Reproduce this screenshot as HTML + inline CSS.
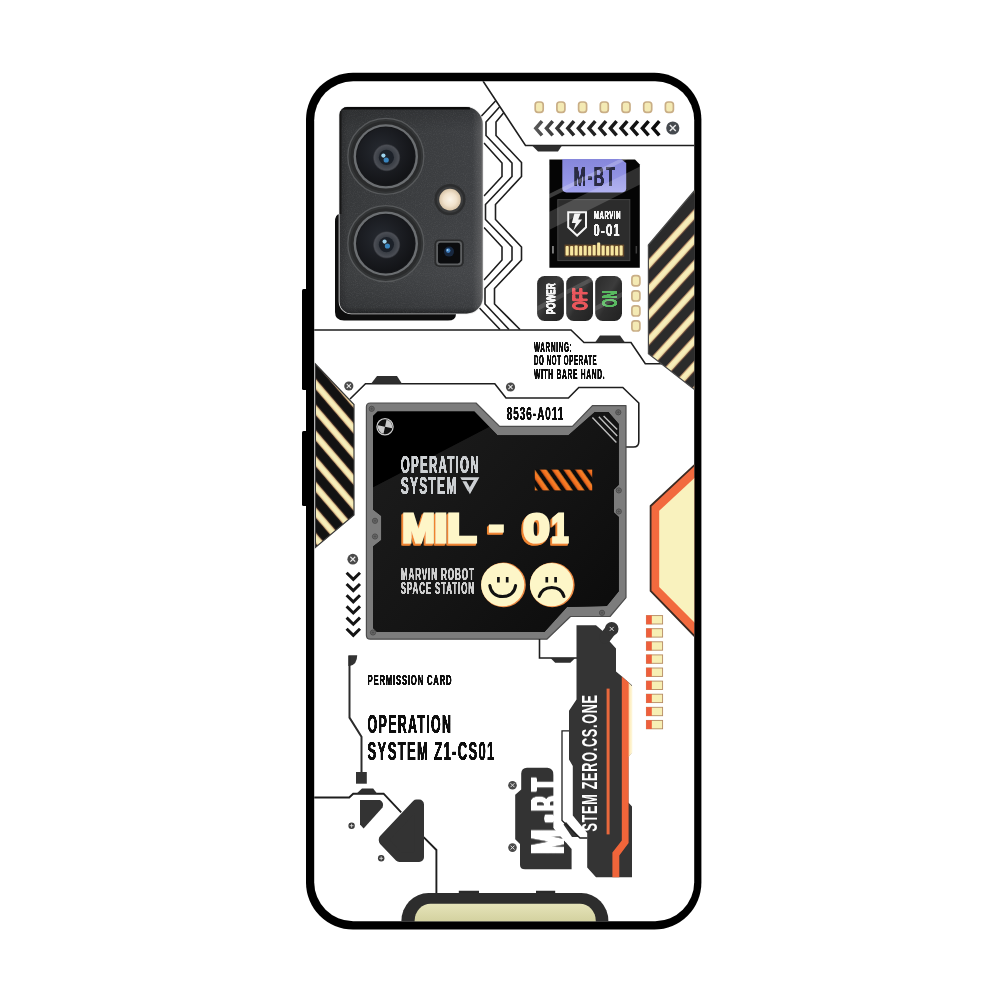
<!DOCTYPE html>
<html lang="en">
<head>
<meta charset="utf-8">
<title>MIL-01 Operation System phone case</title>
<style>
html,body{margin:0;padding:0;background:#fff;}
body{width:1000px;height:1000px;overflow:hidden;}
svg{display:block;font-family:'Liberation Sans', sans-serif;will-change:transform;}
text{white-space:pre;}
</style>
</head>
<body>
<svg width="1000" height="1000" viewBox="0 0 1000 1000">
<rect width="1000" height="1000" fill="#fff"/>
<defs>
<filter id="hbB" x="-20%" y="-20%" width="140%" height="140%"><feGaussianBlur stdDeviation="1.2 0"/><feComponentTransfer><feFuncA type="linear" slope="3" intercept="-0.04"/></feComponentTransfer></filter>
<filter id="hbM" x="-5%" y="-10%" width="110%" height="120%"><feGaussianBlur stdDeviation="0.75 0"/><feComponentTransfer><feFuncA type="linear" slope="3" intercept="-0.04"/></feComponentTransfer></filter>
<filter id="hb" x="-5%" y="-10%" width="110%" height="120%"><feGaussianBlur stdDeviation="0.65 0"/><feComponentTransfer><feFuncA type="linear" slope="2.8" intercept="-0.15"/></feComponentTransfer></filter>
<clipPath id="caseClip"><rect x="314.2" y="81.2" width="380" height="840" rx="39" ry="39"/></clipPath>
<linearGradient id="stripeCream" x1="0" y1="0" x2="0" y2="1">
 <stop offset="0" stop-color="#a8644a"/><stop offset="0.16" stop-color="#f1e4aa"/><stop offset="0.5" stop-color="#f8f0c0"/><stop offset="0.84" stop-color="#f1e4aa"/><stop offset="1" stop-color="#a8644a"/>
</linearGradient>
<linearGradient id="stripeCream2" x1="0" y1="0" x2="0" y2="1">
 <stop offset="0" stop-color="#a8644a"/><stop offset="0.16" stop-color="#f1e4aa"/><stop offset="0.5" stop-color="#f8f0c0"/><stop offset="0.84" stop-color="#f1e4aa"/><stop offset="1" stop-color="#a8644a"/>
</linearGradient>
<pattern id="stripeR" width="40" height="17" patternUnits="userSpaceOnUse" patternTransform="rotate(-47.7)">
 <rect width="40" height="17" fill="#2b2b2b"/><rect y="8.1" width="40" height="7.4" fill="url(#stripeCream2)"/>
</pattern>
<pattern id="stripeL" width="40" height="16.7" patternUnits="userSpaceOnUse" patternTransform="rotate(49.4)">
 <rect width="40" height="16.7" fill="#121212"/><rect y="6.6" width="40" height="7.3" fill="url(#stripeCream)"/>
</pattern>
<linearGradient id="orangeBar" x1="0" y1="0" x2="0" y2="1">
 <stop offset="0" stop-color="#ff8a2a"/><stop offset="1" stop-color="#e8601a"/>
</linearGradient>
<pattern id="stripeO" width="20" height="9.6" patternUnits="userSpaceOnUse" patternTransform="rotate(55) translate(0 2)">
 <rect width="20" height="9.6" fill="#0c0c0c"/><rect y="2.2" width="20" height="5.2" fill="url(#orangeBar)"/>
</pattern>
<radialGradient id="lens" cx="0.5" cy="0.5" r="0.5">
 <stop offset="0" stop-color="#1d2a3a"/><stop offset="0.35" stop-color="#10151c"/><stop offset="0.75" stop-color="#0b0d10"/><stop offset="1" stop-color="#17191c"/>
</radialGradient>
<linearGradient id="camBody" x1="0" y1="0" x2="1" y2="1">
 <stop offset="0" stop-color="#3b3b3b"/><stop offset="0.5" stop-color="#454545"/><stop offset="1" stop-color="#4c4c4c"/>
</linearGradient>
<linearGradient id="chevGrad" x1="534" y1="0" x2="664" y2="0" gradientUnits="userSpaceOnUse">
 <stop offset="0" stop-color="#5a5a5a"/><stop offset="0.25" stop-color="#2a2a2a"/><stop offset="1" stop-color="#0a0a0a"/>
</linearGradient>
<linearGradient id="panelShade" x1="400" y1="450" x2="600" y2="630" gradientUnits="userSpaceOnUse"><stop offset="0" stop-color="#1b1b1b"/><stop offset="0.5" stop-color="#141414"/><stop offset="1" stop-color="#0c0c0c"/></linearGradient>
<linearGradient id="panelGloss" x1="374" y1="411" x2="560" y2="640" gradientUnits="userSpaceOnUse">
 <stop offset="0" stop-color="#000"/><stop offset="0.28" stop-color="#020202"/><stop offset="0.3" stop-color="#151515"/><stop offset="1" stop-color="#0d0d0d"/>
</linearGradient>
<linearGradient id="btnGrad" x1="0" y1="0" x2="1" y2="1">
 <stop offset="0" stop-color="#2a2a2a"/><stop offset="0.45" stop-color="#3c3c3c"/><stop offset="0.55" stop-color="#2e2e2e"/><stop offset="1" stop-color="#222"/>
</linearGradient>
</defs>
<rect x="302" y="289" width="6" height="101" rx="1.5" fill="#000"/>
<rect x="302" y="431" width="6" height="75" rx="1.5" fill="#000"/>
<rect x="306" y="72.8" width="395.4" height="856.8" rx="47" ry="47" fill="#000"/>
<rect x="314.2" y="81.2" width="380" height="840" rx="39" ry="39" fill="#fff"/>
<g clip-path="url(#caseClip)">
<path d="M483 81 L525.5 145.5 L694 145.5" fill="none" stroke="#1e1e1e" stroke-width="1.6" stroke-linejoin="miter"/>
<path d="M532 145.5 L562 145.5 L558 151.5 L538 151.5 Z" fill="#2e2e2e"/>
<path d="M495.5 101 L481 116.5 M484 143 L502 163 L502 176.5 L484 196 M484 227.5 L502 247 L502 260 L484 280 M479 307.5 L500 329.5" fill="none" stroke="#1e1e1e" stroke-width="1.6" stroke-linejoin="miter"/>
<path d="M499.5 107 L486 122 L486 135.5 L512 163 L512 176.5 L485.5 204.5 L485.5 219.5 L512 247 L512 260 L485 288.5 L485 304 L509 329.5" fill="none" stroke="#1e1e1e" stroke-width="1.6" stroke-linejoin="miter"/>
<path d="M503.5 113 L496 122 L496 135.5 L521.5 162.5 L521.5 176.5 L495.5 204.5 L495.5 219.5 L521.5 247 L521.5 260 L494.5 288.5 L494.5 304 L520 329.5" fill="none" stroke="#1e1e1e" stroke-width="1.6" stroke-linejoin="miter"/>
<path d="M314 330 L571 330 L584 342.5 L631 342.5 L645.3 363.7 L662 363.7" fill="none" stroke="#1e1e1e" stroke-width="1.6" stroke-linejoin="miter"/>
<path d="M595 342.5 L600 335.5 L620 335.5 L625 342.5 Z" fill="#2e2e2e"/>
<rect x="535.2" y="102" width="8" height="10.4" rx="2.8" fill="#f4eab4" stroke="#c9ae86" stroke-width="1.7"/>
<rect x="556.9" y="102" width="8" height="10.4" rx="2.8" fill="#f4eab4" stroke="#c9ae86" stroke-width="1.7"/>
<rect x="578.6" y="102" width="8" height="10.4" rx="2.8" fill="#f4eab4" stroke="#c9ae86" stroke-width="1.7"/>
<rect x="600.3" y="102" width="8" height="10.4" rx="2.8" fill="#f4eab4" stroke="#c9ae86" stroke-width="1.7"/>
<rect x="622.0" y="102" width="8" height="10.4" rx="2.8" fill="#f4eab4" stroke="#c9ae86" stroke-width="1.7"/>
<rect x="643.7" y="102" width="8" height="10.4" rx="2.8" fill="#f4eab4" stroke="#c9ae86" stroke-width="1.7"/>
<rect x="665.4" y="102" width="8" height="10.4" rx="2.8" fill="#f4eab4" stroke="#c9ae86" stroke-width="1.7"/>
<path d="M542.0 121.2 L535.8 128.3 L542.0 135.4 M552.7 121.2 L546.5 128.3 L552.7 135.4 M563.3 121.2 L557.1 128.3 L563.3 135.4 M574.0 121.2 L567.8 128.3 L574.0 135.4 M584.6 121.2 L578.4 128.3 L584.6 135.4 M595.3 121.2 L589.1 128.3 L595.3 135.4 M606.0 121.2 L599.8 128.3 L606.0 135.4 M616.6 121.2 L610.4 128.3 L616.6 135.4 M627.3 121.2 L621.1 128.3 L627.3 135.4 M637.9 121.2 L631.7 128.3 L637.9 135.4 M648.6 121.2 L642.4 128.3 L648.6 135.4 M659.3 121.2 L653.1 128.3 L659.3 135.4" fill="none" stroke="url(#chevGrad)" stroke-width="3.5" stroke-linecap="butt" stroke-linejoin="miter"/>
<circle cx="672.8" cy="128" r="6.6" fill="#464a4f"/><path d="M669.8299999999999 125.03L675.77 130.97M675.77 125.03L669.8299999999999 130.97" stroke="#e8e8e8" stroke-width="1.45" fill="none"/>
<linearGradient id="lblG" x1="0" y1="0" x2="0" y2="1"><stop offset="0" stop-color="#8687dc"/><stop offset="0.6" stop-color="#9394e6"/><stop offset="1" stop-color="#a3a4ee"/></linearGradient>
<path d="M549.4 159.4 H635 L639.8 164.5 V267.8 H549.4 Z" fill="#050505"/>
<path d="M562.3 159 H621 L626.2 163 V188.3 Q626.2 192.4 622 192.4 H566.5 Q562.3 192.4 562.3 188.3 Z" fill="url(#lblG)"/>
<text x="573.8" y="186.1" font-size="27.56" font-weight="bold" letter-spacing="2.89" fill="#2a2c44" textLength="42.56" lengthAdjust="spacingAndGlyphs" filter="url(#hbM)" >M-BT</text>
<rect x="557.8" y="199.6" width="72" height="61" fill="#2c2c2c" stroke="#454545" stroke-width="1"/>
<path d="M568.2 212.2 H586 V227.2 L577.1 235.6 L568.2 227.2 Z" fill="none" stroke="#f4f4f4" stroke-width="2" stroke-linejoin="miter"/>
<path d="M574.4 213.6 L580.6 213.6 L578.2 219.4 L582.2 219.4 L573.4 230.4 L575.8 223 L571.8 223 Z" fill="#f4f4f4"/>
<text x="593.8" y="219.4" font-size="10.81" font-weight="bold" letter-spacing="1.14" fill="#f4f4f4" textLength="27.33" lengthAdjust="spacingAndGlyphs" filter="url(#hb)" >MARVIN</text>
<text x="593.6" y="235.6" font-size="17.38" font-weight="bold" letter-spacing="1.82" fill="#f4f4f4" textLength="27.08" lengthAdjust="spacingAndGlyphs" filter="url(#hb)" >0-01</text>
<filter id="ledBlur" x="-10%" y="-40%" width="120%" height="180%"><feGaussianBlur stdDeviation="0.7"/></filter>
<g filter="url(#ledBlur)"><rect x="564.6" y="244.6" width="59.6" height="12" fill="#8a5a2a" opacity="0.6"/><rect x="565.6" y="246.1" width="3.1" height="9.5" rx="0.8" fill="#f7e7a0"/><rect x="570.1" y="246.1" width="3.1" height="9.5" rx="0.8" fill="#f7e7a0"/><rect x="574.6" y="245.6" width="3.1" height="10" rx="0.8" fill="#f7e7a0"/><rect x="579.1" y="246.1" width="3.1" height="9.5" rx="0.8" fill="#f7e7a0"/><rect x="583.6" y="245.6" width="3.1" height="10" rx="0.8" fill="#f7e7a0"/><rect x="588.1" y="246.1" width="3.1" height="9.5" rx="0.8" fill="#f7e7a0"/><rect x="592.6" y="245.1" width="3.1" height="10.5" rx="0.8" fill="#f7e7a0"/><rect x="597.1" y="242.6" width="3.1" height="13" rx="0.8" fill="#f7e7a0"/><rect x="601.6" y="245.6" width="3.1" height="10" rx="0.8" fill="#f7e7a0"/><rect x="606.1" y="246.1" width="3.1" height="9.5" rx="0.8" fill="#f7e7a0"/><rect x="610.6" y="245.6" width="3.1" height="10" rx="0.8" fill="#f7e7a0"/><rect x="615.1" y="246.1" width="3.1" height="9.5" rx="0.8" fill="#f7e7a0"/><rect x="619.6" y="245.6" width="3.1" height="10" rx="0.8" fill="#f7e7a0"/></g>
<rect x="552.2" y="246" width="1.5" height="7.5" fill="#9a9a9a"/><rect x="635.6" y="246" width="1.5" height="7.5" fill="#3c3c3c"/>
<clipPath id="modClip"><path d="M549.4 159.4 H635 L639.8 164.5 V267.8 H549.4 Z"/></clipPath>
<g clip-path="url(#modClip)" fill="#fff"><path d="M545 196 L630 154 L638 154 L545 200.5 Z" opacity="0.22"/><path d="M545 214 L645 164 L645 182 L545 232 Z" opacity="0.17"/></g>
<rect x="537.1" y="276" width="26.8" height="45" rx="7.5" fill="url(#btnGrad)"/>
<text x="555.14" y="298.8" font-size="13.2" font-weight="bold" fill="#f4f4f4" text-anchor="middle" textLength="31.5" lengthAdjust="spacingAndGlyphs" transform="rotate(-90 555.14 298.8)" filter="url(#hb)">POWER</text>
<rect x="566.2" y="276" width="26.8" height="45" rx="7.5" fill="url(#btnGrad)"/>
<text x="587.44" y="299" font-size="22.2" font-weight="bold" fill="#e9575b" text-anchor="middle" textLength="22.5" lengthAdjust="spacingAndGlyphs" transform="rotate(-90 587.44 299)" filter="url(#hb)">OFF</text>
<rect x="595.2" y="276" width="26.8" height="45" rx="7.5" fill="url(#btnGrad)"/>
<text x="616.94" y="299" font-size="22.2" font-weight="bold" fill="#59b961" text-anchor="middle" textLength="16.4" lengthAdjust="spacingAndGlyphs" transform="rotate(-90 616.94 299)" filter="url(#hb)">ON</text>
<g fill="#fff" opacity="0.13"><path d="M537.5 306 L563.5 292 L563.5 297 L537.5 311 Z"/><path d="M566.5 290 L593 276.5 L593 281 L566.5 294.5 Z"/><path d="M595.5 306 L622 292 L622 297 L595.5 311 Z"/></g>
<rect x="631.9" y="275.7" width="8" height="10.2" rx="2.8" fill="#f4eab4" stroke="#c9ae86" stroke-width="1.7"/>
<rect x="631.9" y="290.8" width="8" height="10.2" rx="2.8" fill="#f4eab4" stroke="#c9ae86" stroke-width="1.7"/>
<rect x="631.9" y="305.8" width="8" height="10.2" rx="2.8" fill="#f4eab4" stroke="#c9ae86" stroke-width="1.7"/>
<rect x="631.9" y="320.8" width="8" height="10.2" rx="2.8" fill="#f4eab4" stroke="#c9ae86" stroke-width="1.7"/>
<path d="M648.4 245 L695 190 L695 390 L648.4 353.8 Z" fill="url(#stripeR)"/>
<path d="M649.6 247.6 L696 192.8" fill="none" stroke="#2b2b2b" stroke-width="5"/>
<path d="M648.4 245 L695 190 L695 390 L648.4 353.8 Z" fill="none" stroke="#4a4a4a" stroke-width="1.2"/>
<path d="M315.4 364 L354 404.5 L354 515 L315.4 547.5 Z" fill="url(#stripeL)" stroke="#3a3a3a" stroke-width="1.2"/>
<text x="534" y="352" font-size="14.31" font-weight="bold" letter-spacing="1.5" fill="#111" textLength="38.34" lengthAdjust="spacingAndGlyphs" filter="url(#hb)" >WARNING:</text>
<text x="534" y="365.4" font-size="14.31" font-weight="bold" letter-spacing="1.5" fill="#111" textLength="63.33" lengthAdjust="spacingAndGlyphs" filter="url(#hb)" >DO NOT OPERATE</text>
<text x="534" y="379" font-size="14.31" font-weight="bold" letter-spacing="1.5" fill="#111" textLength="71.34" lengthAdjust="spacingAndGlyphs" filter="url(#hb)" >WITH BARE HAND.</text>
<path d="M350 399 L365.5 383.7 L494.8 383.7 L506 398 L568.4 398 L578.8 387.5 L622.8 387.5 L638.8 403 L638.8 441.5 Q638.8 447 633.5 447 L626 447" fill="none" stroke="#1e1e1e" stroke-width="1.6" stroke-linejoin="miter"/>
<path d="M371 383.7 L377 376 L397 376 L402 383.7 Z" fill="#2e2e2e"/>
<circle cx="348.8" cy="386" r="4.6" fill="#4a4a4a"/><path d="M346.73 383.93L350.87 388.07M350.87 383.93L346.73 388.07" stroke="#e8e8e8" stroke-width="1.01" fill="none"/>
<circle cx="510.5" cy="387" r="4.6" fill="#4a4a4a"/><path d="M508.43 384.93L512.57 389.07M512.57 384.93L508.43 389.07" stroke="#e8e8e8" stroke-width="1.01" fill="none"/>
<path d="M370.4 403 L476 403 L499.6 426.4 L572.4 426.4 L592.4 405.6 L626 405.6 L626 597.6 L610 616.5 L570.5 616.5 L546.8 639.2 L370.4 639.2 Q366.4 639.2 366.4 635.2 L366.4 407 Q366.4 403 370.4 403 Z" fill="#7c7c7c" stroke="#4c4c4c" stroke-width="1.2" stroke-linejoin="round"/>
<path d="M377.6 411.5 L474.4 411.5 L497.5 435.2 L568.4 435.2 L594.8 412 L608.4 412 L618.8 424 L618.8 484.8 L614 489.6 L614 512.5 L618.8 517 L618.8 591.2 L606.8 606 L567 607 L544.4 632 L377 632 L373 628 L373 546.4 L381.3 540 L381.3 516 L373 509.6 L373 416 Z" fill="#111111"/>
<clipPath id="innerClip"><path d="M377.6 411.5 L474.4 411.5 L497.5 435.2 L568.4 435.2 L594.8 412 L608.4 412 L618.8 424 L618.8 484.8 L614 489.6 L614 512.5 L618.8 517 L618.8 591.2 L606.8 606 L567 607 L544.4 632 L377 632 L373 628 L373 546.4 L381.3 540 L381.3 516 L373 509.6 L373 416 Z"/></clipPath>
<g clip-path="url(#innerClip)"><path d="M373 411 L520 411 L373 487.5 Z" fill="#000"/><path d="M373 487.5 L520 411 L620 411 L620 640 L373 640 Z" fill="url(#panelShade)"/></g>
<circle cx="371.7" cy="408.8" r="2.6" fill="#6a6a6a" stroke="#4a4a4a" stroke-width="0.9"/><path d="M370.2 408.8H373.2M371.7 407.3V410.3" stroke="#4a4a4a" stroke-width="0.7"/>
<circle cx="618.3" cy="412.3" r="2.6" fill="#6a6a6a" stroke="#4a4a4a" stroke-width="0.9"/><path d="M616.8 412.3H619.8M618.3 410.8V413.8" stroke="#4a4a4a" stroke-width="0.7"/>
<circle cx="618.8" cy="490.4" r="2.6" fill="#6a6a6a" stroke="#4a4a4a" stroke-width="0.9"/><path d="M617.3 490.4H620.3M618.8 488.9V491.9" stroke="#4a4a4a" stroke-width="0.7"/>
<circle cx="618.8" cy="511.5" r="2.6" fill="#6a6a6a" stroke="#4a4a4a" stroke-width="0.9"/><path d="M617.3 511.5H620.3M618.8 510.0V513.0" stroke="#4a4a4a" stroke-width="0.7"/>
<circle cx="375" cy="520.8" r="2.6" fill="#6a6a6a" stroke="#4a4a4a" stroke-width="0.9"/><path d="M373.5 520.8H376.5M375 519.3V522.3" stroke="#4a4a4a" stroke-width="0.7"/>
<circle cx="375" cy="536.5" r="2.6" fill="#6a6a6a" stroke="#4a4a4a" stroke-width="0.9"/><path d="M373.5 536.5H376.5M375 535.0V538.0" stroke="#4a4a4a" stroke-width="0.7"/>
<circle cx="373" cy="632.5" r="2.6" fill="#6a6a6a" stroke="#4a4a4a" stroke-width="0.9"/><path d="M371.5 632.5H374.5M373 631.0V634.0" stroke="#4a4a4a" stroke-width="0.7"/>
<circle cx="602" cy="612.8" r="2.6" fill="#6a6a6a" stroke="#4a4a4a" stroke-width="0.9"/><path d="M600.5 612.8H603.5M602 611.3V614.3" stroke="#4a4a4a" stroke-width="0.7"/>
<circle cx="385" cy="426.7" r="8.1" fill="#111" stroke="#c9c9c9" stroke-width="1.3"/>
<path d="M385 426.7 L385 419.5 A7.2 7.2 0 0 1 392.2 426.7 Z M385 426.7 L385 433.9 A7.2 7.2 0 0 1 377.8 426.7 Z" fill="#c9c9c9" transform="rotate(12 385 426.7)"/>
<path d="M592.4 417.6 L616.4 442.4 M598.8 416.8 L617.2 436 M603.6 416 L617.2 429.6" stroke="#bdbdbd" stroke-width="1.4" fill="none"/>
<text x="506.8" y="419.6" font-size="18.34" font-weight="bold" letter-spacing="1.93" fill="#111" textLength="57.46" lengthAdjust="spacingAndGlyphs" filter="url(#hb)" >8536-A011</text>
<text x="400.8" y="472.8" font-size="23.96" font-weight="bold" letter-spacing="2.52" fill="#cdd0d3" textLength="79.03" lengthAdjust="spacingAndGlyphs" filter="url(#hbM)" >OPERATION</text>
<text x="400.8" y="494" font-size="23.96" font-weight="bold" letter-spacing="2.52" fill="#cdd0d3" textLength="56.68" lengthAdjust="spacingAndGlyphs" filter="url(#hbM)" >SYSTEM</text>
<path d="M460.2 477.2 L479.4 477.2 L469.9 494.2 L467.9 490.6 L473.9 480 L461.8 480 Z" fill="#cdd0d3"/>
<path d="M462.4 481.2 L466.4 481.2 L469.9 487.4 L467.8 491 Z" fill="#cdd0d3"/>
<rect x="534.8" y="469.6" width="57.4" height="20.8" fill="url(#stripeO)"/>
<filter id="extrude" x="-10%" y="-20%" width="120%" height="150%"><feFlood flood-color="#ef8432"/><feComposite in2="SourceAlpha" operator="in" result="c"/><feOffset in="c" dx="-0.7" dy="0.8" result="o1"/><feOffset in="c" dx="-1.4" dy="1.6" result="o2"/><feOffset in="c" dx="-2.1" dy="2.4" result="o3"/><feMerge><feMergeNode in="o3"/><feMergeNode in="o2"/><feMergeNode in="o1"/><feMergeNode in="SourceGraphic"/></feMerge></filter>
<text y="542.1" font-size="40.4" font-weight="bold" fill="#fef6c8" stroke="#fef6c8" stroke-width="3.2" stroke-linejoin="miter" stroke-miterlimit="2.2" filter="url(#extrude)"><tspan x="402.15" textLength="32.7" lengthAdjust="spacingAndGlyphs">M</tspan><tspan x="434.28" textLength="13.3" lengthAdjust="spacingAndGlyphs">I</tspan><tspan x="446.92" textLength="28.75" lengthAdjust="spacingAndGlyphs">L</tspan> <tspan x="489.05" dy="-3.3" textLength="14.85" lengthAdjust="spacingAndGlyphs">-</tspan> <tspan x="523.26" dy="3.3" textLength="26.55" lengthAdjust="spacingAndGlyphs">0</tspan><tspan x="551.42" textLength="16.98" lengthAdjust="spacingAndGlyphs">1</tspan></text>
<text x="400.8" y="579.6" font-size="15.69" font-weight="bold" letter-spacing="1.65" fill="#cfcfcf" textLength="74.04" lengthAdjust="spacingAndGlyphs" filter="url(#hb)" >MARVIN ROBOT</text>
<text x="400.8" y="594.2" font-size="15.69" font-weight="bold" letter-spacing="1.65" fill="#cfcfcf" textLength="74.01" lengthAdjust="spacingAndGlyphs" filter="url(#hb)" >SPACE STATION</text>
<circle cx="503.5" cy="584.9000000000001" r="22.3" fill="#ee8a44"/>
<circle cx="502.7" cy="584.7" r="21.6" fill="#fdf6c8"/>
<path d="M498.4 576.9000000000001V582.5M507.2 576.9000000000001V582.5" stroke="#111" stroke-width="2.7" fill="none"/>
<path d="M489.8 585.5 C490.6 592.3000000000001 495.6 596.6 502.6 596.6 C509.6 596.6 514.8 592.3000000000001 515.6 585.5" stroke="#111" stroke-width="3" stroke-linecap="round" fill="none"/>
<circle cx="552.3" cy="584.9000000000001" r="22.3" fill="#ee8a44"/>
<circle cx="551.5" cy="584.7" r="21.6" fill="#fdf6c8"/>
<path d="M546.8 576.9000000000001V582.5M555.5999999999999 576.9000000000001V582.5" stroke="#111" stroke-width="2.7" fill="none"/>
<path d="M539.1999999999999 596.5 C541.1999999999999 590.3000000000001 545.8 587.5 551.8 587.5 C557.8 587.5 562.1999999999999 590.3000000000001 564.0 596.5" stroke="#111" stroke-width="3" stroke-linecap="round" fill="none"/>
<path d="M695 464.6 L650.6 506 L650.6 591 L695 636.6 Z" fill="#f26a3e" stroke="#3a2b24" stroke-width="1.8"/>
<path d="M696 476.5 L659.2 510.8 L659.2 587 L696 624 Z" fill="#f9f2be"/>
<rect x="646.4" y="615.6" width="16.2" height="8.4" fill="#f7efb4" stroke="#b58a62" stroke-width="0.9"/><rect x="646.2" y="615.4" width="5.6" height="8.8" fill="#ee5f3c"/>
<rect x="646.4" y="628.7" width="16.2" height="8.4" fill="#f7efb4" stroke="#b58a62" stroke-width="0.9"/><rect x="646.2" y="628.5" width="5.6" height="8.8" fill="#ee5f3c"/>
<rect x="646.4" y="641.8" width="16.2" height="8.4" fill="#f7efb4" stroke="#b58a62" stroke-width="0.9"/><rect x="646.2" y="641.6" width="5.6" height="8.8" fill="#ee5f3c"/>
<rect x="646.4" y="654.9" width="16.2" height="8.4" fill="#f7efb4" stroke="#b58a62" stroke-width="0.9"/><rect x="646.2" y="654.7" width="5.6" height="8.8" fill="#ee5f3c"/>
<rect x="646.4" y="668.0" width="16.2" height="8.4" fill="#f7efb4" stroke="#b58a62" stroke-width="0.9"/><rect x="646.2" y="667.8" width="5.6" height="8.8" fill="#ee5f3c"/>
<rect x="646.4" y="681.1" width="16.2" height="8.4" fill="#f7efb4" stroke="#b58a62" stroke-width="0.9"/><rect x="646.2" y="680.9" width="5.6" height="8.8" fill="#ee5f3c"/>
<rect x="646.4" y="694.2" width="16.2" height="8.4" fill="#f7efb4" stroke="#b58a62" stroke-width="0.9"/><rect x="646.2" y="694.0" width="5.6" height="8.8" fill="#ee5f3c"/>
<rect x="646.4" y="707.3" width="16.2" height="8.4" fill="#f7efb4" stroke="#b58a62" stroke-width="0.9"/><rect x="646.2" y="707.1" width="5.6" height="8.8" fill="#ee5f3c"/>
<rect x="646.4" y="720.4" width="16.2" height="8.4" fill="#f7efb4" stroke="#b58a62" stroke-width="0.9"/><rect x="646.2" y="720.2" width="5.6" height="8.8" fill="#ee5f3c"/>
<circle cx="352.8" cy="559.2" r="5.4" fill="#4a4a4a"/><path d="M350.37 556.7700000000001L355.23 561.63M355.23 556.7700000000001L350.37 561.63" stroke="#e8e8e8" stroke-width="1.19" fill="none"/>
<path d="M346.6 572.8 L353.3 579.4 L360 572.8 M346.6 584.0 L353.3 590.6 L360 584.0 M346.6 595.2 L353.3 601.8 L360 595.2 M346.6 606.4 L353.3 613.0 L360 606.4 M346.6 617.6 L353.3 624.2 L360 617.6 M346.6 628.8 L353.3 635.4 L360 628.8" fill="none" stroke="#151515" stroke-width="3"/>
<path d="M348.4 655.2 H357.2 Q357.2 664.5 349.6 666 L348.4 666 Z" fill="#333"/>
<path d="M349.5 656 L349.5 717.6 L361.5 736.8 L361.5 773" fill="none" stroke="#2c2c2c" stroke-width="2"/>
<rect x="356" y="772" width="10.8" height="11.7" fill="#333"/>
<text x="367.6" y="684.8" font-size="15.26" font-weight="bold" letter-spacing="1.6" fill="#111" textLength="84.81" lengthAdjust="spacingAndGlyphs" filter="url(#hb)" >PERMISSION CARD</text>
<text x="367.6" y="732.8" font-size="26.29" font-weight="bold" letter-spacing="2.76" fill="#111" textLength="84.68" lengthAdjust="spacingAndGlyphs" filter="url(#hbM)" >OPERATION</text>
<text x="367.6" y="760.4" font-size="26.29" font-weight="bold" letter-spacing="2.76" fill="#111" textLength="128.06" lengthAdjust="spacingAndGlyphs" filter="url(#hbM)" >SYSTEM Z1-CS01</text>
<path d="M314 797.5 L349.2 797.5 L353.2 793.7 L383.6 793.7 L401.2 812.4 M423.6 837.2 L436.4 850 L436.4 894" fill="none" stroke="#1e1e1e" stroke-width="1.9"/>
<path d="M356.4 793.7 L362 788.4 L373.2 788.4 L377.2 793.7 Z" fill="#2e2e2e"/>
<path d="M360 800 L380 800 Q384.5 802.5 382.5 807.5 L363.6 828.4 L360 824.4 Z" fill="#333"/>
<path d="M416.6 804.4 L419.2 804.4 L419.2 857.2 L399.4 857.2 L383.6 840.6 L383.6 839.2 Z" fill="#333" stroke="#333" stroke-width="9.6" stroke-linejoin="round"/>
<circle cx="351.6" cy="825.7" r="3.2" fill="#3a3a3a"/><path d="M349.68 825.7L353.52000000000004 825.7M351.6 823.7800000000001L351.6 827.62" stroke="#e8e8e8" stroke-width="0.80" fill="none"/>
<circle cx="381.2" cy="858.3" r="3.2" fill="#3a3a3a"/><path d="M379.28 858.3L383.12 858.3M381.2 856.38L381.2 860.2199999999999" stroke="#e8e8e8" stroke-width="0.80" fill="none"/>
<path d="M458.8 894 V890.8 H479 V894 Z M536 894 V890.8 H555.2 V894 Z" fill="#2a2a2a"/>
<linearGradient id="dockG" x1="0" y1="903" x2="0" y2="922" gradientUnits="userSpaceOnUse"><stop offset="0" stop-color="#e6e4ba"/><stop offset="1" stop-color="#d3d19f"/></linearGradient>
<rect x="401.4" y="893" width="207" height="60" rx="27" ry="28" fill="#2d2d2d"/>
<rect x="414.6" y="903.8" width="181.2" height="50" rx="16" ry="17" fill="url(#dockG)"/>
<path d="M539.5 639 L539.5 658 L577 658" fill="none" stroke="#1e1e1e" stroke-width="1.6" stroke-linejoin="miter"/>
<path d="M550.4 658 L575.2 658 L570.4 662.8 L555.2 662.8 Z" fill="#2e2e2e"/>
<path d="M527 767.8 L547.5 767.8 Q553.6 768.5 553.6 775 L553.6 828 L571.6 849 L571.6 869.2 L525 869.2 Q520 869.2 520 865 L520 844 L515.2 839.2 L515.2 794.8 L521.2 789.5 L521.2 773.5 Q521.5 768 527 767.8 Z" fill="#333"/>
<text transform="translate(564 853.6) rotate(-90)" y="0" font-size="48.8" font-weight="bold" fill="#fff" filter="url(#hbB)"><tspan x="-0.16" textLength="24.39" lengthAdjust="spacingAndGlyphs">M</tspan><tspan x="32.19" dy="-2" stroke="#fff" stroke-width="3" stroke-linejoin="round" textLength="5.74" lengthAdjust="spacingAndGlyphs">-</tspan><tspan x="42.86" dy="2" textLength="14.78" lengthAdjust="spacingAndGlyphs">B</tspan><tspan x="62.87" textLength="12.47" lengthAdjust="spacingAndGlyphs">T</tspan></text>
<path d="M553.6 772 L553.6 828 L566 842.4 L566 772 Z" fill="#fff"/>
<circle cx="512.5" cy="785.2" r="4.3" fill="#4a4a4a"/><path d="M510.565 783.2650000000001L514.435 787.135M514.435 783.2650000000001L510.565 787.135" stroke="#e8e8e8" stroke-width="0.95" fill="none"/>
<circle cx="512.5" cy="847.6" r="4.3" fill="#4a4a4a"/><path d="M510.565 845.6650000000001L514.435 849.535M514.435 845.6650000000001L510.565 849.535" stroke="#e8e8e8" stroke-width="0.95" fill="none"/>
<path d="M562 730.8 L569 730.8 L573 766 L573 815.6 L587.5 833 L587.5 838 L580 838 L562 820.4 Z" fill="#fff"/>
<path d="M563.5 824.5 L572 837 L579 837 L566 822 Z" fill="#333"/>
<path d="M569 730.8 L562 730.8 L562 820.4 L580 838 L587.5 838" fill="none" stroke="#1e1e1e" stroke-width="1.3"/>
<path d="M576.5 625.2 L596 625.2 L602.4 630.8 L608.8 640.4 L616 648.4 L616 671.6 L622 676.5 L632 685.2 L632 752.5 L628.4 757 L628.4 802.5 L632 806.5 L632 877.2 L596 877.2 L587.2 867.6 L587.2 833 L572.8 815.6 L572.8 766 L569 759.6 L569 710.8 L576.5 699.6 Z" fill="#343434"/>
<path d="M611.7 628.9 L605 637.5" stroke="#343434" stroke-width="12" stroke-linecap="round"/>
<circle cx="611.7" cy="628.9" r="6.8" fill="#343434"/>
<path d="M609.7 626.9 L613.7 630.9 M613.7 626.9 L609.7 630.9" stroke="#e8e8e8" stroke-width="0.9"/>
<linearGradient id="edgeGlow" x1="628" y1="0" x2="633" y2="0" gradientUnits="userSpaceOnUse"><stop offset="0" stop-color="#f9b98a"/><stop offset="0.4" stop-color="#fdeec0"/><stop offset="1" stop-color="#fffbe8"/></linearGradient>
<path d="M627 681 L632.4 686.6 L632.4 752.5 L628.6 757 L627 757 Z" fill="url(#edgeGlow)"/>
<path d="M621.8 676.4 L628.6 682.6 L628.6 843 L619.3 855.5 L619.3 877.2 L612.4 877.2 L612.4 852.4 L621.8 840.4 Z" fill="#f0653a"/>
<rect x="606.6" y="688.6" width="3" height="145.8" fill="#e8683c"/>
<text x="596.6" y="831.6" font-size="22.68" font-weight="bold" letter-spacing="1.36" fill="#fff" textLength="137.38" lengthAdjust="spacingAndGlyphs" transform="rotate(-90 596.6 831.6)" >STEM ZERO.CS.ONE</text>
<linearGradient id="camEdge" x1="0" y1="0" x2="1" y2="0">
 <stop offset="0" stop-color="#2b2c2e"/><stop offset="0.06" stop-color="#36383a"/><stop offset="0.93" stop-color="#3e4043"/><stop offset="1" stop-color="#5c5d5f"/></linearGradient>
<linearGradient id="camShade" x1="0" y1="0" x2="0" y2="1">
 <stop offset="0" stop-color="#000" stop-opacity="0.18"/><stop offset="0.12" stop-color="#000" stop-opacity="0"/><stop offset="0.8" stop-color="#fff" stop-opacity="0.03"/><stop offset="0.97" stop-color="#000" stop-opacity="0.05"/><stop offset="1" stop-color="#000" stop-opacity="0.4"/></linearGradient>
<radialGradient id="flashG" cx="0.5" cy="0.5" r="0.5"><stop offset="0" stop-color="#fbf4e8"/><stop offset="0.6" stop-color="#f1e2cc"/><stop offset="1" stop-color="#d8c4a8"/></radialGradient>
<radialGradient id="lensEl" cx="0.5" cy="0.5" r="0.5"><stop offset="0" stop-color="#1c2430"/><stop offset="0.6" stop-color="#2b3038"/><stop offset="1" stop-color="#15171a"/></radialGradient>
<filter id="grain" x="0" y="0" width="100%" height="100%"><feTurbulence type="fractalNoise" baseFrequency="0.9" numOctaves="2" seed="4" result="n"/><feColorMatrix in="n" type="matrix" values="0 0 0 0 1  0 0 0 0 1  0 0 0 0 1  0.6 0.6 0.6 0 -0.82"/><feComposite in2="SourceGraphic" operator="in"/></filter>
<path d="M335 222 Q335 214 340 214 L340 300 L456 313 L456 314 Q456 320.6 448 320.6 L344 320.6 Q335 320.6 335 312 Z" fill="#0d0d0d"/>
<path d="M347.5 107 H465.5 A17 17 0 0 1 482.6 124 V297.5 A16 16 0 0 1 466.5 313.5 H351.5 A12 12 0 0 1 339.5 301.5 V115 A8 8 0 0 1 347.5 107 Z" fill="none" stroke="#e4e4e4" stroke-width="1.6"/>
<path d="M347.5 107 H465.5 A17 17 0 0 1 482.6 124 V297.5 A16 16 0 0 1 466.5 313.5 H351.5 A12 12 0 0 1 339.5 301.5 V115 A8 8 0 0 1 347.5 107 Z" fill="url(#camEdge)"/>
<path d="M347.5 107 H465.5 A17 17 0 0 1 482.6 124 V297.5 A16 16 0 0 1 466.5 313.5 H351.5 A12 12 0 0 1 339.5 301.5 V115 A8 8 0 0 1 347.5 107 Z" fill="url(#camShade)"/>
<path d="M347.5 107 H465.5 A17 17 0 0 1 482.6 124 V297.5 A16 16 0 0 1 466.5 313.5 H351.5 A12 12 0 0 1 339.5 301.5 V115 A8 8 0 0 1 347.5 107 Z" fill="#fff" filter="url(#grain)" opacity="0.13"/>
<clipPath id="camClip"><path d="M347.5 107 H465.5 A17 17 0 0 1 482.6 124 V297.5 A16 16 0 0 1 466.5 313.5 H351.5 A12 12 0 0 1 339.5 301.5 V115 A8 8 0 0 1 347.5 107 Z"/></clipPath>
<g clip-path="url(#camClip)"><path d="M338 108.2 H470" stroke="#0a0a0a" stroke-width="2.6"/><path d="M340.4 107 V214" stroke="#161616" stroke-width="2.2"/><path d="M481.8 120 V300" stroke="#6a6a6a" stroke-width="1.4" opacity="0.7"/></g>
<radialGradient id="glassG" cx="0.42" cy="0.4" r="0.62"><stop offset="0" stop-color="#262a31"/><stop offset="0.55" stop-color="#1b1d22"/><stop offset="1" stop-color="#121316"/></radialGradient>
<radialGradient id="elemG" cx="0.5" cy="0.5" r="0.5"><stop offset="0" stop-color="#2a2e36"/><stop offset="0.62" stop-color="#3c4047"/><stop offset="0.9" stop-color="#4b4e55"/><stop offset="1" stop-color="#2a2c31"/></radialGradient>
<circle cx="385.8" cy="156.4" r="38" fill="#333536" stroke="#57595b" stroke-width="1.3"/>
<circle cx="385.8" cy="156.4" r="35.4" fill="#2a2b2c"/>
<circle cx="385.8" cy="156.4" r="32.2" fill="#6c6f72"/>
<circle cx="385.8" cy="156.4" r="29.8" fill="#16171a"/>
<circle cx="385.8" cy="156.4" r="28.8" fill="url(#glassG)"/>
<circle cx="386.6" cy="157.6" r="13.6" fill="url(#elemG)"/>
<circle cx="386.40000000000003" cy="157.4" r="7.6" fill="#1c2129"/>
<circle cx="386.2" cy="160.0" r="2.6" fill="#3a86bf"/><circle cx="383.4" cy="155.6" r="2.1" fill="#9fd4ee"/>
<circle cx="385.8" cy="243.6" r="38" fill="#333536" stroke="#57595b" stroke-width="1.3"/>
<circle cx="385.8" cy="243.6" r="35.4" fill="#2a2b2c"/>
<circle cx="385.8" cy="243.6" r="32.2" fill="#6c6f72"/>
<circle cx="385.8" cy="243.6" r="29.8" fill="#16171a"/>
<circle cx="385.8" cy="243.6" r="28.8" fill="url(#glassG)"/>
<circle cx="386.6" cy="244.79999999999998" r="13.6" fill="url(#elemG)"/>
<circle cx="386.40000000000003" cy="244.6" r="7.6" fill="#1c2129"/>
<circle cx="387.40000000000003" cy="246.0" r="2.6" fill="#3a86bf"/><circle cx="384.6" cy="241.6" r="2.1" fill="#9fd4ee"/>
<circle cx="450" cy="199.6" r="15.6" fill="#2c2d2e"/><circle cx="450" cy="199.6" r="13.2" fill="#3b3c3d"/><circle cx="450" cy="199.6" r="10.8" fill="url(#flashG)"/>
<rect x="434.4" y="239.4" width="29.4" height="27.6" rx="4.8" fill="#2a2b2c"/>
<rect x="436.2" y="241" width="25.8" height="24.2" rx="3.6" fill="#5d5f61"/>
<rect x="438" y="242.8" width="22.2" height="20.6" rx="2.4" fill="#0b0c0e"/>
<circle cx="449" cy="251.6" r="5" fill="#18283f"/><circle cx="448.2" cy="250.6" r="2.3" fill="#3f7fc0"/><circle cx="447.6" cy="250" r="0.9" fill="#a9d6f2"/>
</g>
</svg>
</body>
</html>
